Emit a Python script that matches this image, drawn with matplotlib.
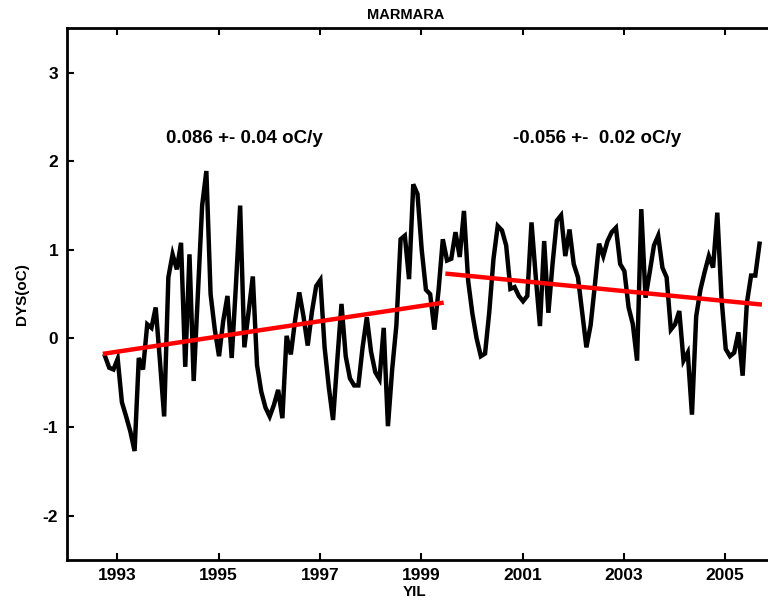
import numpy as np
import matplotlib.pyplot as plt

# monthly anomaly series, starting Oct 1992
t0 = 1992.76
dys = [
    -0.20, -0.33, -0.35, -0.23, -0.72, -0.88, -1.05, -1.27, -0.22, -0.35,
    0.16, 0.12, 0.35, -0.25, -0.88, 0.69, 0.95, 0.78, 1.08, -0.32,
    0.95, -0.48, 0.50, 1.50, 1.89,
    0.50, 0.10, -0.20, 0.20, 0.48, -0.22, 0.60, 1.50, -0.10, 0.30,
    0.70, -0.30, -0.60, -0.78, -0.88, -0.75, -0.58, -0.90, 0.03, -0.18,
    0.20, 0.52, 0.25, -0.08, 0.30,
    0.59, 0.66, -0.10, -0.55, -0.92, -0.25, 0.39, -0.20, -0.45, -0.53,
    -0.53, -0.10, 0.24, -0.15, -0.38, -0.46, 0.12, -0.99, -0.35, 0.15,
    1.12, 1.16, 0.67, 1.74, 1.63,
    1.00, 0.55, 0.50, 0.10, 0.55, 1.12, 0.88, 0.90, 1.20, 0.92,
    1.44, 0.65, 0.28, 0.00, -0.20, -0.17, 0.30, 0.90, 1.27, 1.22,
    1.05, 0.56, 0.58, 0.48, 0.42,
    0.48, 1.31, 0.70, 0.14, 1.10, 0.29, 0.85, 1.33, 1.39, 0.93,
    1.23, 0.84, 0.69, 0.30, -0.10, 0.15, 0.60, 1.07, 0.93, 1.10,
    1.20, 1.25, 0.84, 0.76, 0.35,
    0.16, -0.25, 1.46, 0.46, 0.75, 1.05, 1.16, 0.80, 0.69, 0.10,
    0.16, 0.31, -0.25, -0.16, -0.86, 0.25, 0.55, 0.75, 0.93, 0.80,
    1.42, 0.45, -0.12, -0.20, -0.16, 0.07, -0.42, 0.40, 0.71, 0.71,
    1.07,
]
yil = t0 + np.arange(len(dys)) / 12.0

# trend segments: start year, end year, value at start, slope (oC/y)
trend_start = [1992.76, 1999.52]
trend_end = [1999.40, 2005.68]
trend_y0 = [-0.17, 0.73]
trend_slope = [0.086, -0.056]
trend_text = ['0.086 +- 0.04 oC/y', '-0.056 +-  0.02 oC/y']
text_x = [1995.52, 2002.47]

xticks = [1993, 1995, 1997, 1999, 2001, 2003, 2005]
yticks = [-2, -1, 0, 1, 2, 3]

plt.rcParams['font.family'] = ['Liberation Sans', 'DejaVu Sans']
plt.rcParams['font.weight'] = 'bold'
plt.rcParams['axes.unicode_minus'] = False

fig = plt.figure(figsize=(7.68, 6.0), dpi=100)
ax = fig.add_axes([0.0866, 0.0667, 0.9237, 0.886])

ax.plot(yil, dys, color='black', lw=3.2, solid_joinstyle='miter')
for a, b, y0, s in zip(trend_start, trend_end, trend_y0, trend_slope):
    xs = np.array([a, b])
    ax.plot(xs, y0 + s * (xs - a), color='red', lw=3.2)

for x, txt in zip(text_x, trend_text):
    ax.text(x, 2.26, txt, ha='center', va='center', fontsize=13.5, fontweight='bold')

ax.set_xlim(1992, 2006)
ax.set_ylim(-2.5, 3.5)
ax.set_xticks(xticks)
ax.set_yticks(yticks)
ax.tick_params(direction='in', length=5, width=1.5, top=True, right=True,
               labelsize=12.5, pad=6)
for lab in ax.get_xticklabels() + ax.get_yticklabels():
    lab.set_fontweight('bold')
for sp in ax.spines.values():
    sp.set_linewidth(2)

fig.text(406 / 768, 1 - 15 / 600, 'MARMARA', ha='center', va='center',
         fontsize=10.5, fontweight='bold')
fig.text(415 / 768, 1 - 592 / 600, 'YIL', ha='center', va='center',
         fontsize=11, fontweight='bold')
ax.set_ylabel('DYS(oC)', fontsize=11, fontweight='bold', labelpad=10)

plt.savefig('out.png', dpi=100)
